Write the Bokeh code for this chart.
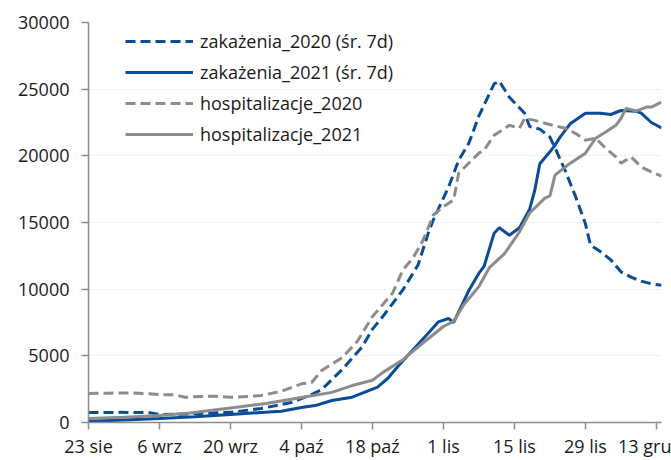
from bokeh.plotting import figure
from bokeh.models import Range1d, FixedTicker, Legend, LegendItem
from bokeh.embed import file_html
from bokeh.resources import INLINE

# x = days since 23 Aug
tick_days = [0, 14, 28, 42, 56, 70, 84, 98, 112]
tick_labels = ["23 sie", "6 wrz", "20 wrz", "4 paź", "18 paź", "1 lis", "15 lis", "29 lis", "13 gru"]

zak2020_d = [0, 6, 12, 14, 18, 22, 28, 34, 38, 40, 44, 46, 50, 54, 56, 58, 62, 65, 67, 68, 71, 73, 75, 77, 80, 81,
             83, 86, 87, 89, 91, 92, 94, 96, 98, 99, 101, 103, 105, 107, 109, 111, 113]
zak2020_v = [750, 760, 740, 600, 620, 680, 760, 1050, 1350, 1500, 2100, 2470, 3960, 5690, 7000, 7930, 9950, 11820,
             14200, 15200, 17650, 19670, 20940, 23000, 25400, 25600, 24400, 23200, 22200, 22000, 21400, 20600, 18900,
             17000, 14900, 13300, 12800, 12200, 11300, 10900, 10600, 10400, 10300]

zak2021_d = [0, 7, 14, 21, 28, 34, 38, 42, 45, 48, 52, 56, 57, 59, 61, 64, 67, 69, 71, 72, 73, 75, 77, 78, 80, 81,
             83, 85, 87, 88, 89, 91, 92, 93, 95, 98, 101, 103, 105, 108, 109, 111, 113]
zak2021_v = [100, 180, 300, 430, 600, 750, 850, 1120, 1300, 1650, 1900, 2500, 2650, 3300, 4200, 5450, 6700, 7550,
             7800, 7500, 8300, 9900, 11200, 11700, 14200, 14600, 14050, 14600, 16000, 17400, 19400, 20300, 20800,
             21400, 22400, 23200, 23200, 23100, 23400, 23350, 23200, 22500, 22100]

hosp2020_d = [0, 4, 8, 12, 14, 17, 19, 22, 25, 28, 32, 34, 38, 42, 44, 46, 50, 53, 56, 60, 62, 64, 66, 68, 70, 72,
              73, 77, 78, 80, 83, 85, 86, 88, 90, 94, 96, 98, 100, 102, 104, 105, 107, 109, 111, 113]
hosp2020_v = [2170, 2200, 2220, 2150, 2090, 2090, 1890, 1950, 1970, 1890, 1970, 2020, 2340, 2900, 3000, 3900, 4860,
              6080, 7950, 9720, 11440, 12340, 13690, 15560, 16180, 16680, 18700, 20200, 20420, 21540, 22290, 22070,
              22810, 22660, 22440, 22070, 21690, 21170, 21320, 20570, 19920, 19450, 19920, 19170, 18800, 18480]

hosp2021_d = [0, 7, 14, 20, 28, 35, 42, 48, 52, 56, 58, 62, 66, 70, 72, 74, 77, 79, 82, 85, 87, 90, 91, 92, 95, 98,
              100, 102, 104, 105, 106, 108, 110, 111, 113]
hosp2021_v = [300, 400, 520, 720, 1090, 1420, 1870, 2260, 2770, 3170, 3740, 4710, 5980, 7200, 7580, 8830, 10200,
              11590, 12650, 14300, 15710, 16830, 17000, 18550, 19450, 20200, 21320, 21790, 22290, 22800, 23560,
              23360, 23660, 23660, 24030]

BLUE = "#0a4c97"
GRAY = "#8c8c8c"
FONT = "Open Sans"

p = figure(width=671, height=460, output_backend="svg", toolbar_location=None,
           x_range=Range1d(0, 113), y_range=Range1d(0, 30000),
           min_border_left=88, min_border_right=10, min_border_top=22, min_border_bottom=37)
p.outline_line_color = None
p.background_fill_color = "white"

r1 = p.line(zak2020_d, zak2020_v, line_color=BLUE, line_width=3, line_dash="10 5")
r2 = p.line(zak2021_d, zak2021_v, line_color=BLUE, line_width=3)
r3 = p.line(hosp2020_d, hosp2020_v, line_color=GRAY, line_width=3, line_dash="10 5")
r4 = p.line(hosp2021_d, hosp2021_v, line_color=GRAY, line_width=3)

p.xaxis.ticker = FixedTicker(ticks=tick_days)
p.xaxis.major_label_overrides = {d: l for d, l in zip(tick_days, tick_labels)}
p.yaxis.ticker = FixedTicker(ticks=[0, 5000, 10000, 15000, 20000, 25000, 30000])

for ax in (p.xaxis[0], p.yaxis[0]):
    ax.axis_line_color = GRAY
    ax.axis_line_width = 1.5
    ax.major_tick_line_color = GRAY
    ax.major_tick_line_width = 1.5
    ax.major_tick_in = 0
    ax.major_tick_out = 7
    ax.minor_tick_line_color = None
    ax.major_label_text_font = FONT
    ax.major_label_text_font_size = "18px"
    ax.major_label_text_color = "#1a1a1a"
p.yaxis.major_label_standoff = 12
p.xaxis.major_label_standoff = 4

p.xgrid.grid_line_color = None
p.ygrid.grid_line_color = "#e4e4e4"
p.ygrid.grid_line_dash = "2 2"
p.ygrid.grid_line_width = 1

legend = Legend(items=[
    LegendItem(label="zakażenia_2020 (śr. 7d)", renderers=[r1]),
    LegendItem(label="zakażenia_2021 (śr. 7d)", renderers=[r2]),
    LegendItem(label="hospitalizacje_2020", renderers=[r3]),
    LegendItem(label="hospitalizacje_2021", renderers=[r4]),
], location=(37, 276))
legend.border_line_color = None
legend.background_fill_alpha = 0
legend.label_text_font = FONT
legend.label_text_font_size = "18px"
legend.label_text_color = "#1a1a1a"
legend.glyph_width = 68
legend.glyph_height = 24
legend.spacing = 7
legend.padding = 0
legend.margin = 0
legend.label_standoff = 7
p.add_layout(legend, "center")

open("out.html", "w").write(file_html(p, INLINE))
